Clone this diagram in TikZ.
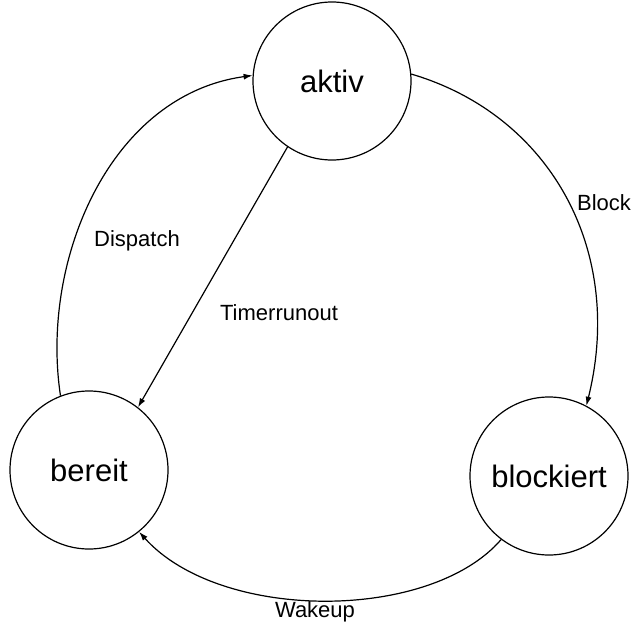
\documentclass[tikz,border=0pt]{standalone}
\usepackage{fontspec}
\setmainfont{Liberation Sans}
\usetikzlibrary{arrows.meta}
\begin{document}
\begin{tikzpicture}[x=1pt,y=-1pt,
  state/.style={draw, circle, line width=1.2pt, minimum size=158pt, inner sep=0pt,
    font=\fontsize{31}{36}\selectfont},
  edge/.style={line width=1.2pt, -{Latex[length=9pt,width=6pt]}},
  lbl/.style={font=\fontsize{22}{26}\selectfont, inner sep=0pt}]
\useasboundingbox[fill=white] (0,0) rectangle (633,634);
\node[state] (aktiv) at (332,81) {aktiv};
\node[state] (bereit) at (89,470) {bereit};
\node[state] (blockiert) at (549,476) {blockiert};
\draw[edge] (bereit.111) .. controls (40,260) and (110,95) .. (aktiv.176);
\draw[edge] (aktiv.5) .. controls (550,115) and (625,250) .. (blockiert.62);
\draw[edge] (blockiert.233) .. controls (430,622) and (220,622) .. (bereit.309);
\draw[edge] (aktiv.236) -- (bereit.52);
\node[lbl] (ldisp) at (137,241) {Dispatch};
\node[lbl] (ltimer) at (279,313) {Timerrunout};
\node[lbl] (lblock) at (604,203) {Block};
\node[lbl] (lwake) at (315,612) {Wakeup};
\end{tikzpicture}
\end{document}
